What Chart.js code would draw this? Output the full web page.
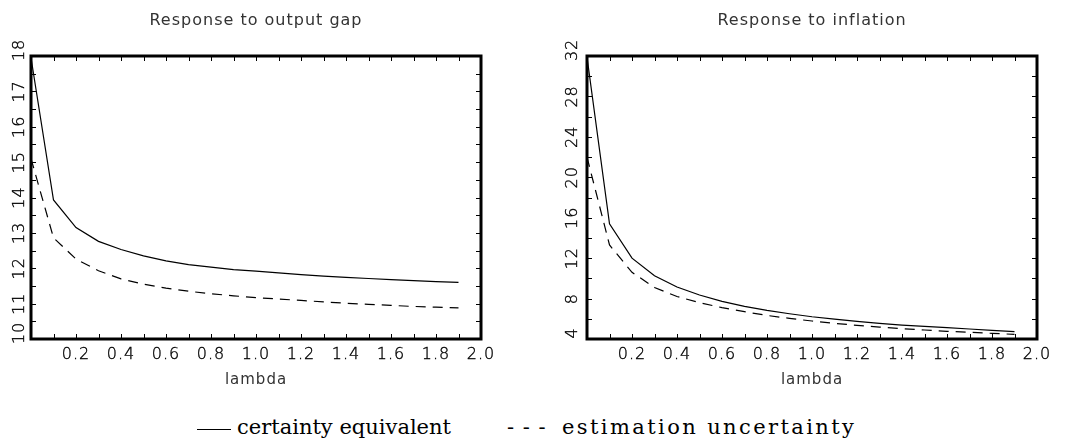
<!DOCTYPE html>
<html>
<head>
<meta charset="utf-8">
<script src="https://cdn.jsdelivr.net/npm/chart.js@4/dist/chart.umd.min.js"></script>
<style>
html,body{margin:0;padding:0;background:#fff;width:1071px;height:447px;overflow:hidden;}
#c1{position:absolute;left:0;top:0;}
#c2{position:absolute;left:540px;top:0;}
.lg{position:absolute;top:417px;font-family:"DejaVu Serif","Liberation Serif",serif;font-size:21px;line-height:21px;color:#000;white-space:nowrap;}
#rule{position:absolute;left:197px;top:429px;width:34px;height:0;border-top:1px solid #000;}
</style>
</head>
<body>
<canvas id="c1" width="540" height="400"></canvas>
<canvas id="c2" width="531" height="400"></canvas>
<div id="rule"></div>
<div class="lg" style="left:237px">certainty equivalent</div>
<div class="lg" style="left:507px;letter-spacing:1px">- - -</div>
<div class="lg" style="left:562px;letter-spacing:2.4px">estimation uncertainty</div>
<script>
// ---- data ----
const lambdaValues = [0.0, 0.1, 0.2, 0.3, 0.4, 0.5, 0.6, 0.7, 0.8, 0.9, 1.0, 1.1, 1.2, 1.3, 1.4, 1.5, 1.6, 1.7, 1.8, 1.9];
const outputGapCertainty = [17.95, 13.93, 13.15, 12.76, 12.53, 12.35, 12.21, 12.10, 12.03, 11.96, 11.92, 11.87, 11.82, 11.78, 11.74, 11.71, 11.68, 11.65, 11.62, 11.60];
const outputGapUncertainty = [15.10, 12.86, 12.26, 11.93, 11.70, 11.55, 11.44, 11.35, 11.28, 11.22, 11.17, 11.13, 11.09, 11.05, 11.01, 10.98, 10.95, 10.92, 10.90, 10.88];
const inflationCertainty = [31.9, 15.4, 12.0, 10.25, 9.15, 8.35, 7.72, 7.22, 6.83, 6.50, 6.20, 5.97, 5.74, 5.55, 5.38, 5.25, 5.12, 4.99, 4.86, 4.72];
const inflationUncertainty = [22.0, 13.3, 10.6, 9.1, 8.2, 7.6, 7.1, 6.7, 6.33, 6.04, 5.78, 5.55, 5.35, 5.18, 5.02, 4.89, 4.76, 4.66, 4.56, 4.46];
const seriesNames = ["certainty equivalent", "estimation uncertainty"];
const titles = ["Response to output gap", "Response to inflation"];
const xAxisTitle = "lambda";
const xTickLabels = ["0.2", "0.4", "0.6", "0.8", "1.0", "1.2", "1.4", "1.6", "1.8", "2.0"];
const yTickLabelsLeft = ["10", "11", "12", "13", "14", "15", "16", "17", "18"];
const yTickLabelsRight = ["4", "8", "12", "16", "20", "24", "28", "32"];

const FONT = "'DejaVu Sans', 'Liberation Sans', sans-serif";

const framePlugin = {
  id: 'frameTicks',
  beforeUpdate(chart) { chart.ctx.letterSpacing = '1px'; },
  beforeDraw(chart) { chart.ctx.letterSpacing = '1px'; },
  afterDraw(chart) {
    const {ctx, chartArea: a, scales} = chart;
    ctx.save();
    ctx.strokeStyle = '#000';
    ctx.lineWidth = 1;
    const L = 5;
    ctx.beginPath();
    scales.x.ticks.forEach(t => {
      const px = Math.round(scales.x.getPixelForValue(t.value)) + 0.5;
      ctx.moveTo(px, a.bottom); ctx.lineTo(px, a.bottom - L);
      ctx.moveTo(px, a.top); ctx.lineTo(px, a.top + L);
    });
    scales.y.ticks.forEach(t => {
      const py = Math.round(scales.y.getPixelForValue(t.value)) + 0.5;
      ctx.moveTo(a.left, py); ctx.lineTo(a.left + L, py);
      ctx.moveTo(a.right, py); ctx.lineTo(a.right - L, py);
    });
    ctx.stroke();
    ctx.lineWidth = 3;
    ctx.strokeRect(a.left, a.top, a.right - a.left, a.bottom - a.top);
    ctx.restore();
  }
};

function pts(ys) { return lambdaValues.map((x, i) => ({x, y: ys[i]})); }

function makeChart(id, title, ce, eu, yMin, yMax, yStep, yLabels, yWidth, yPad, rightPad) {
  return new Chart(document.getElementById(id), {
    type: 'line',
    data: {
      datasets: [
        { label: seriesNames[0], data: pts(ce), borderColor: '#000', borderWidth: 1.2, pointRadius: 0, tension: 0, fill: false },
        { label: seriesNames[1], data: pts(eu), borderColor: '#000', borderWidth: 1.2, borderDash: [10, 7], pointRadius: 0, tension: 0, fill: false }
      ]
    },
    options: {
      responsive: false,
      animation: false,
      events: [],
      layout: { padding: { left: 0, right: rightPad, top: 0, bottom: 0 } },
      plugins: {
        legend: { display: false },
        tooltip: { enabled: false },
        title: {
          display: true, text: title, fullSize: false, color: '#333',
          font: { family: FONT, size: 16, weight: 'normal' },
          padding: { top: 11.5, bottom: 25.3 }
        }
      },
      scales: {
        x: {
          type: 'linear', position: 'bottom', min: 0, max: 2,
          grid: { display: false, drawTicks: false },
          border: { display: false },
          ticks: {
            stepSize: 0.1, autoSkip: false, maxRotation: 0, minRotation: 0, padding: 6,
            color: '#000', textStrokeColor: '#000', textStrokeWidth: 0.35,
            font: { family: FONT, size: 16, weight: 300 },
            callback: (v) => { const k = Math.round(v * 10); const s = (k / 10).toFixed(1); return (k > 0 && k % 2 === 0 && xTickLabels.includes(s)) ? s : ''; }
          },
          title: { display: true, text: xAxisTitle, color: '#333', font: { family: FONT, size: 15, weight: 'normal' }, padding: { top: 0, bottom: 10.5 } },
          afterFit: (s) => { s.height = 61; }
        },
        y: {
          type: 'linear', position: 'left', min: yMin, max: yMax,
          grid: { display: false, drawTicks: false },
          border: { display: false },
          ticks: {
            stepSize: yStep, autoSkip: false, minRotation: 90, maxRotation: 90, crossAlign: 'center', padding: yPad,
            color: '#000', textStrokeColor: '#000', textStrokeWidth: 0.35,
            font: { family: FONT, size: 16, weight: 300 },
            callback: (v) => {
              const s = String(Math.round(v * 100) / 100);
              if (!yLabels.includes(s)) return '';
              // end labels sit on their tick (start-aligned) as in the reference
              return (v === yMin || v === yMax) ? '\u00a0\u00a0' + s : s;
            }
          },
          afterFit: (s) => { s.width = yWidth; }
        }
      }
    },
    plugins: [framePlugin]
  });
}

makeChart('c1', titles[0], outputGapCertainty, outputGapUncertainty, 10, 18, 0.5, yTickLabelsLeft, 31, -6, 59);
makeChart('c2', titles[1], inflationCertainty, inflationUncertainty, 4, 32, 2, yTickLabelsRight, 47, -3, 34);
</script>
</body>
</html>
